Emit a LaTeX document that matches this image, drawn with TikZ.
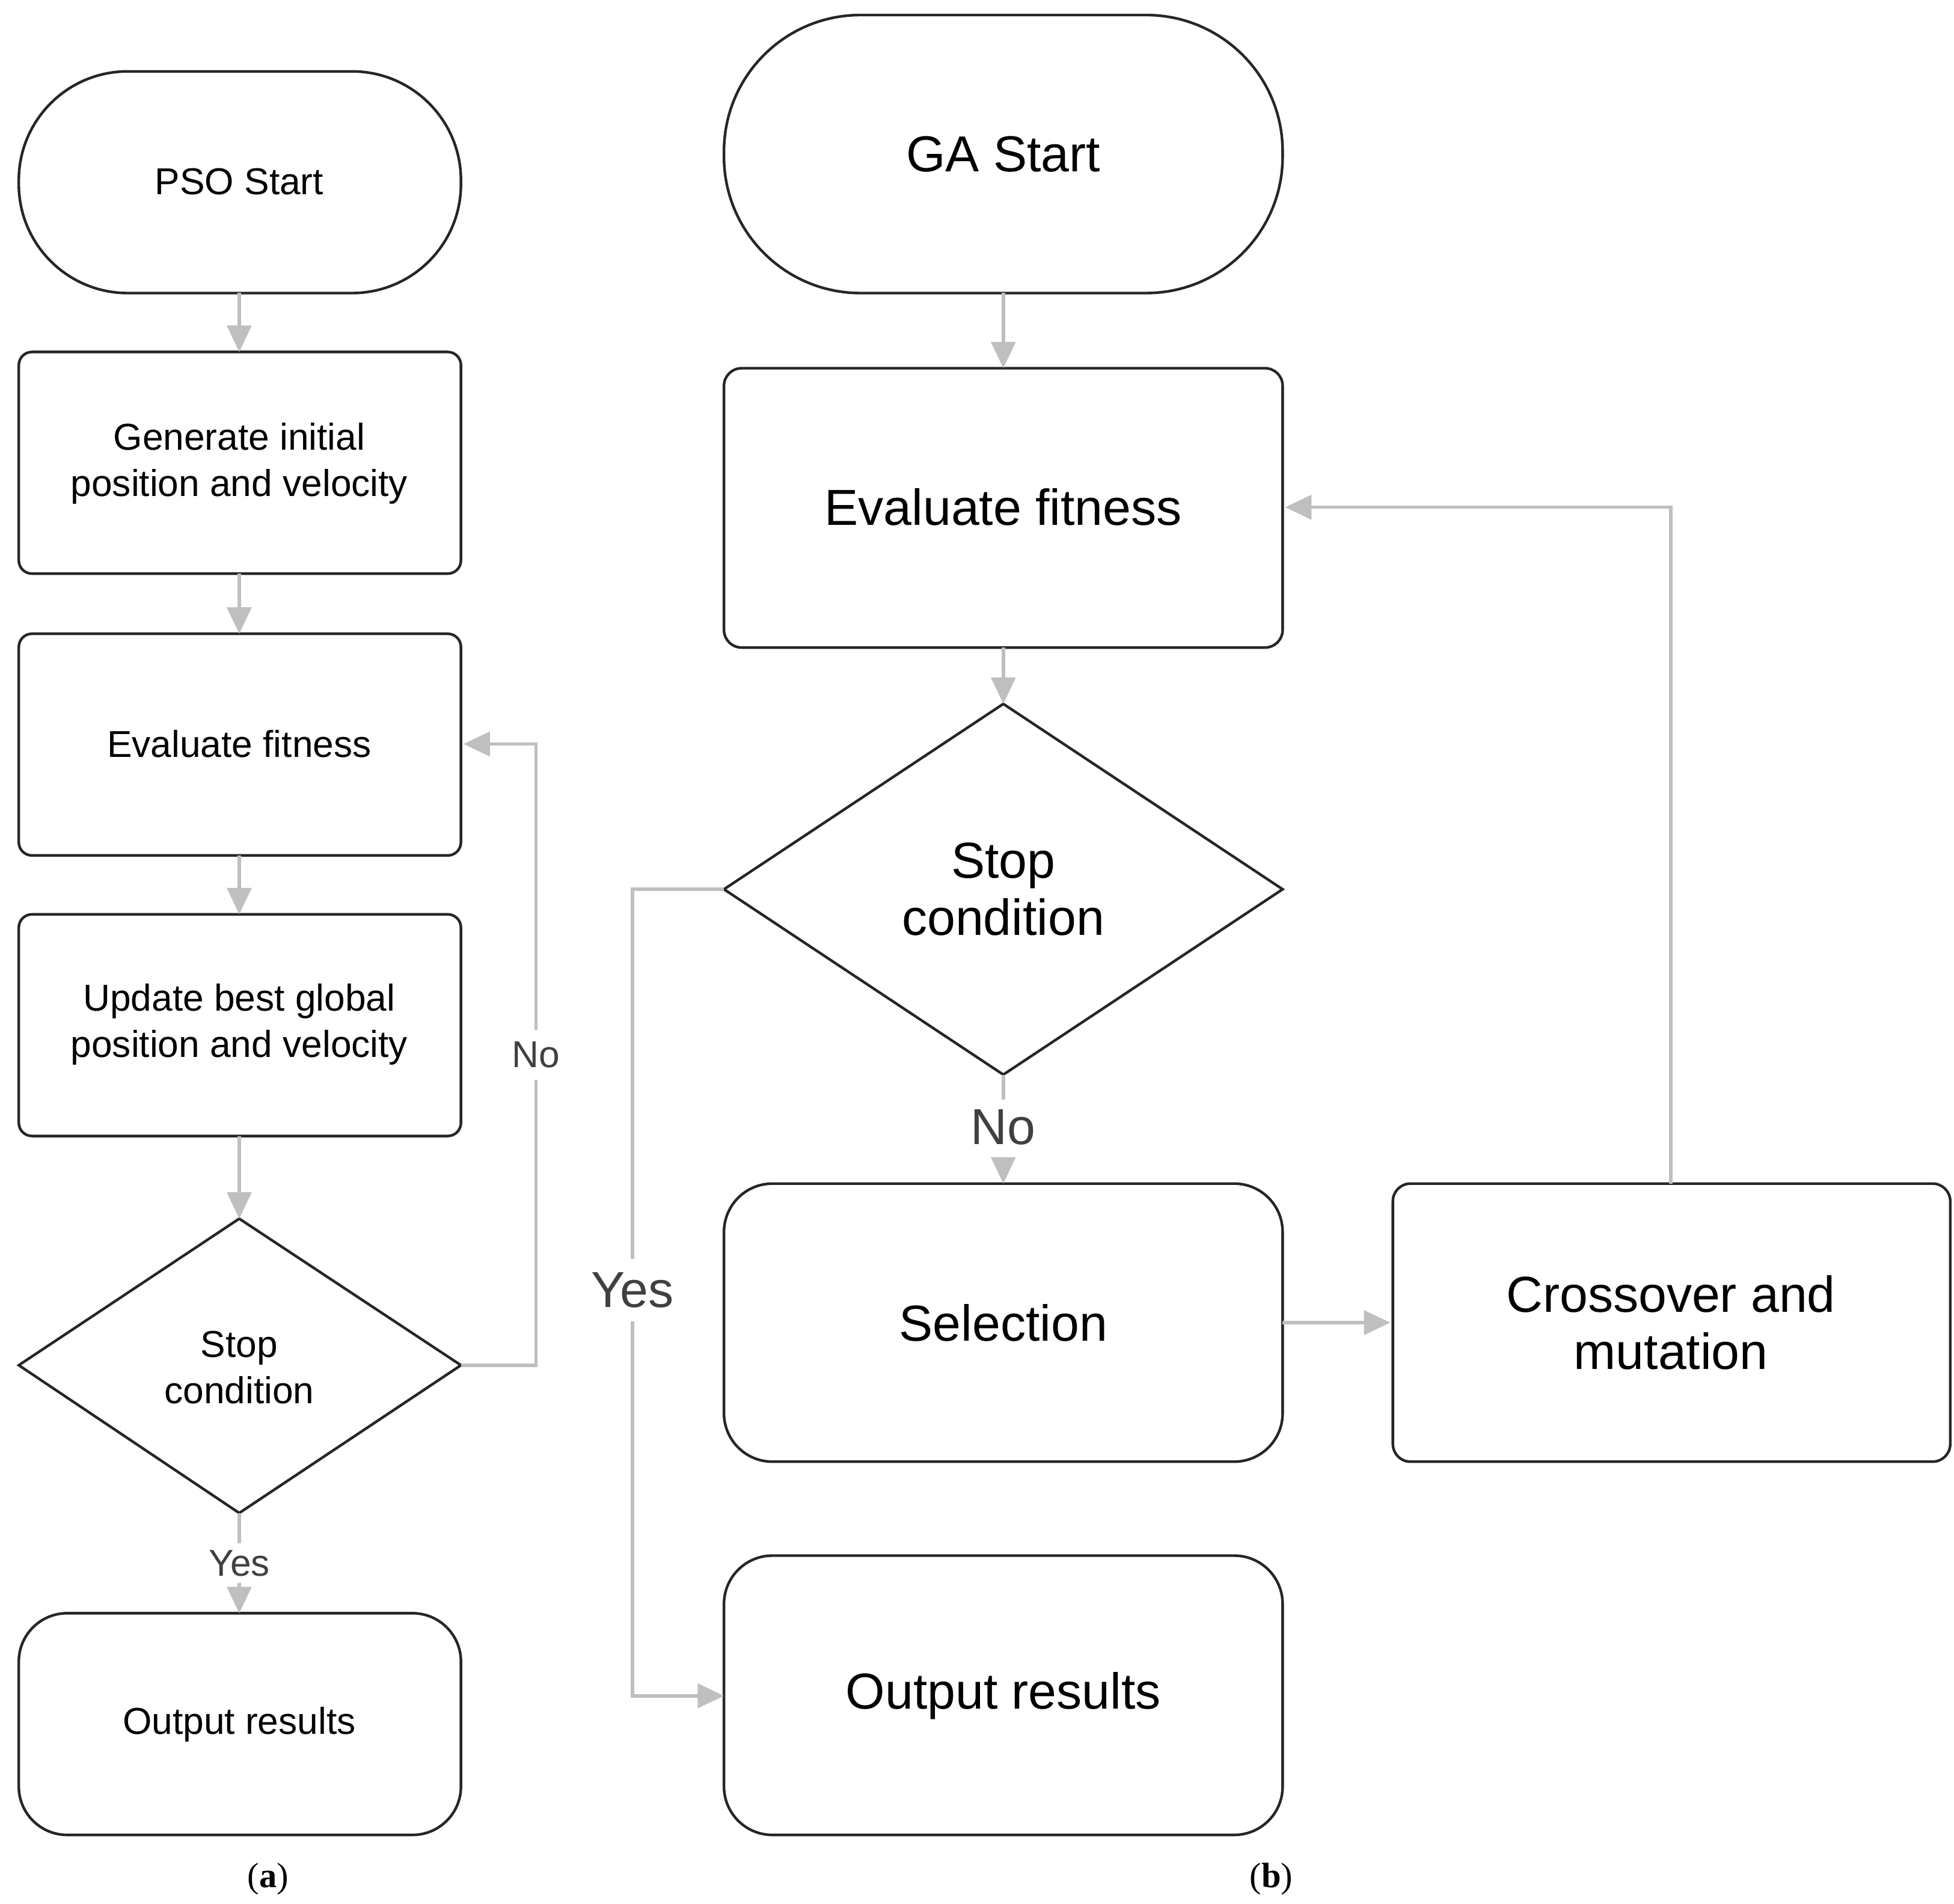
\documentclass[tikz,border=0pt]{standalone}
\usepackage{fontspec}
\setmainfont{Liberation Sans}
\newfontfamily\serifcap{Liberation Serif}
\usetikzlibrary{shapes.geometric,arrows.meta}
\begin{document}
\begin{tikzpicture}[x=0.02cm,y=-0.02cm,
  box/.style={draw=black!85,line width=1.2pt,rounded corners=#1,align=center},
  box/.default=12pt,
  arr/.style={draw=black!25,line width=1.5pt,-{Triangle[length=12pt,width=11pt]}},
  ln/.style={draw=black!25,line width=1.5pt},
  sm/.style={font=\fontsize{17}{21}\selectfont},
  bg/.style={font=\fontsize{23}{26}\selectfont},
  lab/.style={text=black!75}]
\useasboundingbox (0,0) rectangle (1560,1520);
% left
\draw[box=49.5pt] (15,57) rectangle (368,234);
\node[sm] (ps) at (191,145) {PSO Start};
\draw[box=6pt] (15,281) rectangle (368,458);
\node[sm,align=center] (gen) at (191,370) {Generate initial\\position and velocity};
\draw[box=6pt] (15,506) rectangle (368,683);
\node[sm] (ev) at (191,594) {Evaluate fitness};
\draw[box=6pt] (15,730) rectangle (368,907);
\node[sm,align=center] (up) at (191,818) {Update best global\\position and velocity};
\draw[black!85,line width=1.2pt] (191,973) -- (368,1090) -- (191,1208) -- (15,1090) -- cycle;
\node[sm,align=center] (st) at (191,1092) {Stop\\condition};
\draw[box=22pt] (15,1288) rectangle (368,1465);
\node[sm] (out) at (191,1377) {Output results};
\draw[arr] (191,234) -- (191,281);
\draw[arr] (191,458) -- (191,506);
\draw[arr] (191,683) -- (191,730);
\draw[arr] (191,907) -- (191,973);
\draw[ln] (191,1208) -- (191,1232);
\node[sm,lab] (yes1) at (191,1248) {Yes};
\draw[arr] (191,1264) -- (191,1288);
\draw[ln] (368,1090) -- (428,1090) -- (428,862);
\node[sm,lab] (no1) at (428,842) {No};
\draw[arr] (428,822) -- (428,594) -- (370,594);
\node[font=\serifcap\fontsize{16}{18}\selectfont] (la) at (214,1500) {(\textbf{a})};
% right
\draw[box=62pt] (578,12) rectangle (1024,234);
\node[bg] (ga) at (801,123) {GA Start};
\draw[box=8pt] (578,294) rectangle (1024,517);
\node[bg] (ev2) at (801,405) {Evaluate fitness};
\draw[black!85,line width=1.2pt] (801,562) -- (1024,710) -- (801,858) -- (578,710) -- cycle;
\node[bg,align=center] (st2) at (801,710) {Stop\\condition};
\draw[box=22pt] (578,945) rectangle (1024,1167);
\node[bg] (sel) at (801,1056) {Selection};
\draw[box=8pt] (1112,945) rectangle (1557,1167);
\node[bg,align=center] (cm) at (1334,1056) {Crossover and\\mutation};
\draw[box=22pt] (578,1242) rectangle (1024,1465);
\node[bg] (out2) at (801,1354) {Output results};
\draw[arr] (801,234) -- (801,294);
\draw[arr] (801,517) -- (801,562);
\draw[ln] (801,858) -- (801,878);
\node[bg,lab] (no2) at (801,900) {No};
\draw[arr] (801,925) -- (801,945);
\draw[arr] (1024,1056) -- (1110,1056);
\draw[arr] (1334,945) -- (1334,405) -- (1026,405);
\draw[ln] (578,710) -- (505,710) -- (505,1005);
\node[bg,lab] (yes2) at (505,1030) {Yes};
\draw[arr] (505,1055) -- (505,1354) -- (578,1354);
\node[font=\serifcap\fontsize{16}{18}\selectfont] (lb) at (1015,1500) {(\textbf{b})};
\end{tikzpicture}
\end{document}
